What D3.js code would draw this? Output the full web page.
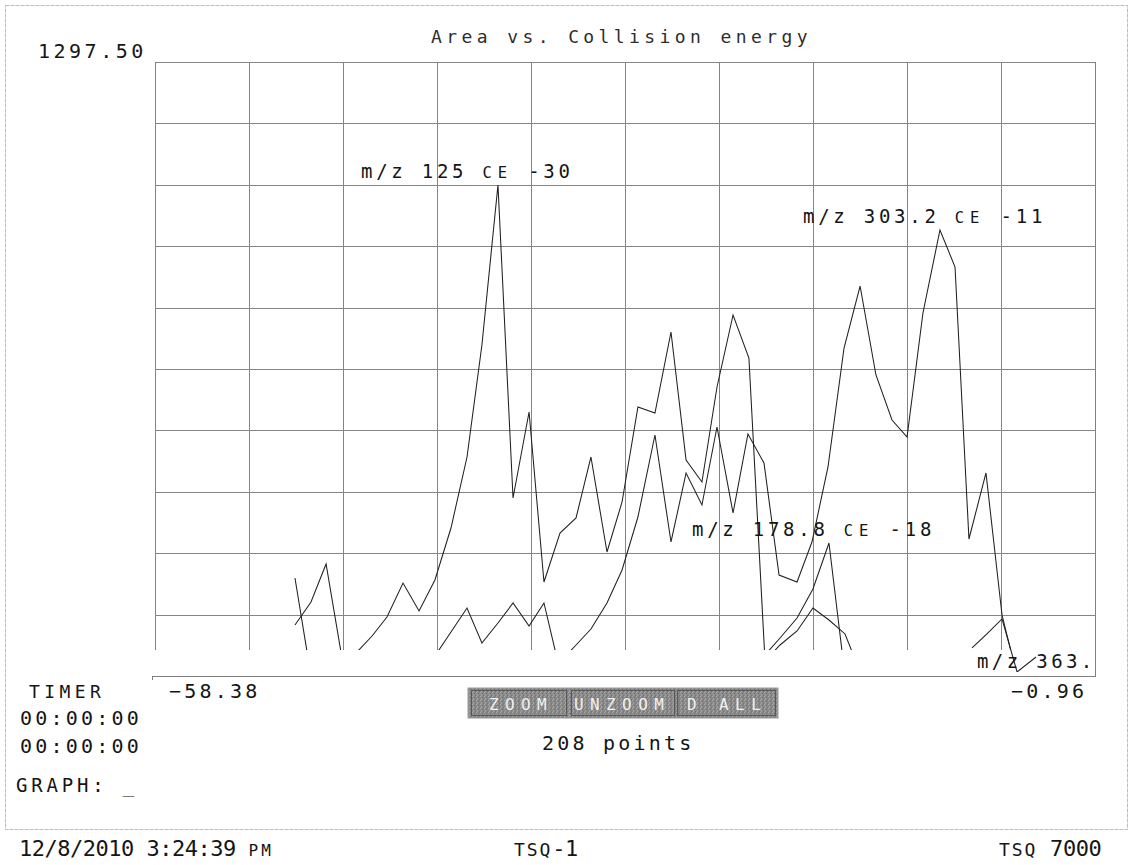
<!DOCTYPE html>
<html>
<head>
<meta charset="utf-8">
<title>Area vs. Collision energy</title>
<script src="https://cdn.jsdelivr.net/npm/d3@7"></script>
<style>
  html, body { margin: 0; padding: 0; background: #fff; }
  svg { display: block; }
  text { font-family: "DejaVu Sans Mono", "Liberation Mono", monospace; fill: #151515; }
</style>
</head>
<body>
<svg id="chart" width="1131" height="865"></svg>
<script>
// ---- axis range (collision energy, V) and area full scale ----
const ceRange = [-58.38, -0.96];
const areaTop = [1297.5];

// ---- m/z 125 trace ----
const mz125CE = [-49.83, -48.85, -47.93, -47.02, -46.10, -45.12, -44.21, -43.23, -42.25, -41.28,
                 -40.30, -39.32, -38.41, -37.43, -36.51, -35.53, -34.62, -33.64, -32.66, -31.75,
                 -30.77, -29.85, -28.88, -27.84, -26.86, -25.94, -24.97, -24.05, -23.07, -22.10, -21.12];
const mz125Area = [107.8, 156.4, 236.7, 50.7, 48.6, 84.5, 124.7, 196.5, 137.4, 202.9,
                   312.7, 462.8, 699.5, 1037.6, 376.1, 557.9, 198.6, 302.2, 333.9, 462.8,
                   262.0, 367.7, 568.5, 555.8, 726.9, 456.4, 410.0, 610.7, 762.9, 672.0, 33.8];

// ---- m/z 303.2 trace ----
const mz303CE = [-33.64, -32.66, -31.75, -30.77, -29.85, -28.88, -27.84, -26.86, -25.94, -24.97,
                 -24.05, -23.07, -22.16, -21.18, -20.26, -19.16, -18.25, -17.27, -16.29, -15.31,
                 -14.34, -13.36, -12.44, -11.47, -10.43, -9.51, -8.66, -7.62, -6.64, -5.72];
const mz303Area = [29.6, 65.5, 99.3, 154.3, 224.0, 336.0, 509.3, 283.2, 429.0, 361.4,
                   526.2, 344.4, 511.4, 450.1, 213.4, 198.6, 283.2, 441.7, 693.1, 824.1,
                   636.1, 541.0, 505.0, 767.1, 942.5, 864.3, 289.5, 429.0, 128.9, 0];

// ---- m/z 178.8 trace ----
const mz178CE = [-21.12, -20.20, -19.16, -18.19, -17.21, -16.23];
const mz178Area = [44.4, 80.3, 122.6, 183.8, 281.1, 0];

// ---- low-level trace ----
const lowCE = [-49.83, -48.85, -41.28, -40.30, -39.32, -38.41, -37.43, -36.51, -35.53, -34.62,
               -33.64, -21.18, -20.20, -19.16, -18.19, -17.21, -16.23, -15.31];
const lowArea = [207.1, 0, 42.3, 93.0, 143.7, 69.7, 112.0, 154.3, 105.7, 154.3,
                 10.6, 29.6, 65.5, 95.1, 143.7, 118.3, 88.8, 8.5];

// ---- m/z 363 trace ----
const mz363CE = [-8.47, -7.56, -6.64, -5.72, -4.56];
const mz363Area = [59.2, 88.8, 120.5, 8.5, 40.2];

// ---- trace labels ----
const labelMz = ["m/z 125 ", "m/z 303.2 ", "m/z 178.8 "];
const labelCE = [" -30", " -11", " -18"];
const lastLabel = ["m/z 363."];

// ---- status texts ----
const timerLines = ["TIMER", "00:00:00", "00:00:00"];
const buttonNames = ["ZOOM", "UNZOOM", "D ALL"];
const pointCount = [208];
const footer = ["12/8/2010 3:24:39 ", "PM", "TSQ", "-1", " 7000"];

// ------------------------------------------------------------------
const svg = d3.select("#chart");
const plotL = 155, plotR = 1095, plotT = 62, plotB = 676, floorY = 650;

const x = d3.scaleLinear().domain(ceRange).range([plotL, plotR]);
const y = d3.scaleLinear().domain([0, areaTop[0]]).range([plotB, plotT]);

const defs = svg.append("defs");
defs.append("clipPath").attr("id", "plotClip")
  .append("rect").attr("x", plotL).attr("y", plotT - 2).attr("width", plotR - plotL).attr("height", floorY - plotT + 2);
defs.append("clipPath").attr("id", "lowClip")
  .append("rect").attr("x", plotL).attr("y", plotT - 2).attr("width", plotR - plotL).attr("height", 674 - plotT);

// speckled grey used on the button strip
const grain = defs.append("pattern").attr("id", "grain")
  .attr("width", 4).attr("height", 4).attr("patternUnits", "userSpaceOnUse");
grain.append("rect").attr("width", 4).attr("height", 4).attr("fill", "#8a8a8a");
[[0,0,"#a9a9a9"],[2,1,"#707070"],[1,2,"#9f9f9f"],[3,3,"#777777"],[3,0,"#7e7e7e"],[1,3,"#a2a2a2"]]
  .forEach(([px, py, c]) => grain.append("rect").attr("x", px).attr("y", py)
    .attr("width", 1).attr("height", 1).attr("fill", c));

// page frame
svg.append("rect")
  .attr("x", 5.5).attr("y", 5.5).attr("width", 1122).attr("height", 824)
  .attr("fill", "none").attr("stroke", "#bdbdbd").attr("stroke-width", 1)
  .attr("stroke-dasharray", "4,1");

// grid: vertical lines stop at the floor, horizontal lines span the plot
const xTicks = d3.range(11).map(i => ceRange[0] + i * (ceRange[1] - ceRange[0]) / 10);
const yTicks = d3.range(1, 11).map(i => i * areaTop[0] / 10);

const gx = svg.append("g").attr("transform", `translate(0,${floorY})`)
  .call(d3.axisBottom(x).tickValues(xTicks).tickSize(-(floorY - plotT)).tickFormat(""));
const gy = svg.append("g").attr("transform", `translate(${plotL},0)`)
  .call(d3.axisLeft(y).tickValues(yTicks).tickSize(-(plotR - plotL)).tickFormat(""));
[gx, gy].forEach(g => {
  g.select(".domain").remove();
  g.selectAll(".tick line").attr("stroke", "#858585").attr("stroke-width", 1)
    .attr("shape-rendering", "crispEdges");
});

// baseline and right border
svg.append("path")
  .attr("d", `M${plotL - 3},${plotB + 4}V${plotB}H${plotR}V${plotT}`)
  .attr("fill", "none").attr("stroke", "#808080").attr("stroke-width", 1)
  .attr("shape-rendering", "crispEdges");

// traces
const line = d3.line().x(d => x(d[0])).y(d => y(d[1]));
const traces = [
  { ce: mz125CE, area: mz125Area, clip: "plotClip" },
  { ce: mz303CE, area: mz303Area, clip: "plotClip" },
  { ce: mz178CE, area: mz178Area, clip: "plotClip" },
  { ce: lowCE, area: lowArea, clip: "plotClip" },
  { ce: mz363CE, area: mz363Area, clip: "lowClip" }
];
traces.forEach(t => {
  svg.append("g").attr("clip-path", `url(#${t.clip})`)
    .append("path")
    .datum(d3.zip(t.ce, t.area))
    .attr("d", line)
    .attr("fill", "none")
    .attr("stroke", "#202020")
    .attr("stroke-width", 1.05)
    .attr("stroke-linejoin", "miter");
});

// labels sit just above-left of each trace maximum
[0, 1, 2].forEach(i => {
  const t = traces[i];
  const k = d3.maxIndex(t.area);
  const lx = x(t.ce[k]) - 137, ly = y(t.area[k]) - 7;
  const txt = svg.append("text").attr("x", lx).attr("y", ly)
    .style("font-size", "19px").style("letter-spacing", "3.75px");
  txt.append("tspan").text(labelMz[i]);
  txt.append("tspan").style("font-size", "15.5px").style("letter-spacing", "5.9px").text("CE");
  txt.append("tspan").text(labelCE[i]);
});
svg.append("text").attr("x", 977).attr("y", 668)
  .style("font-size", "19px").style("letter-spacing", "3.4px").text(lastLabel[0]);

// title and scale readouts
svg.append("text").attr("x", 431).attr("y", 43)
  .style("font-size", "18px").style("letter-spacing", "4.4px").style("fill", "#2e2e2e")
  .text("Area vs. Collision energy");
svg.append("text").attr("x", 38).attr("y", 58)
  .style("font-size", "20px").style("letter-spacing", "3.5px")
  .text(d3.format(".2f")(areaTop[0]));
svg.append("text").attr("x", 169).attr("y", 698)
  .style("font-size", "20px").style("letter-spacing", "3.2px")
  .text(d3.format(".2f")(ceRange[0]));
svg.append("text").attr("x", 1011).attr("y", 698)
  .style("font-size", "20px").style("letter-spacing", "3.2px")
  .text(d3.format(".2f")(ceRange[1]));

// timer block
svg.append("text").attr("x", 29).attr("y", 698)
  .style("font-size", "18px").style("letter-spacing", "4.4px").text(timerLines[0]);
svg.append("text").attr("x", 20).attr("y", 725)
  .style("font-size", "20px").style("letter-spacing", "3.2px").text(timerLines[1]);
svg.append("text").attr("x", 20).attr("y", 753)
  .style("font-size", "20px").style("letter-spacing", "3.2px").text(timerLines[2]);
const graphTxt = svg.append("text").attr("x", 16).attr("y", 792)
  .style("font-size", "19px").style("letter-spacing", "3.8px");
graphTxt.append("tspan").text("GRAPH: ");
graphTxt.append("tspan").style("fill", "#7a7a7a").text("_");

// button strip
const bar = svg.append("g");
bar.append("rect").attr("x", 468).attr("y", 688).attr("width", 310).attr("height", 30)
  .attr("fill", "url(#grain)").attr("stroke", "#9a9a9a");
const btnBoxes = [[471, 95], [571, 103], [677, 98]];
const btnTextX = [489, 574, 687];
buttonNames.forEach((name, i) => {
  bar.append("rect").attr("x", btnBoxes[i][0] + 0.5).attr("y", 690.5)
    .attr("width", btnBoxes[i][1]).attr("height", 25)
    .attr("fill", "none").attr("stroke", "#585858").attr("stroke-width", 1);
  bar.append("text").attr("x", btnTextX[i]).attr("y", 710)
    .style("font-size", "16px").style("letter-spacing", "6.4px").style("fill", "#f0f0f0")
    .text(name);
});
svg.append("text").attr("x", 542).attr("y", 750)
  .style("font-size", "20px").style("letter-spacing", "3.2px")
  .text(`${pointCount[0]} points`);

// footer
const f1 = svg.append("text").attr("x", 19).attr("y", 856)
  .style("font-size", "22px").style("letter-spacing", "-0.5px");
f1.append("tspan").text(footer[0]);
f1.append("tspan").style("font-size", "16px").style("letter-spacing", "3.1px").text(footer[1]);

const f2 = svg.append("text").attr("x", 514).attr("y", 856)
  .style("font-size", "22px").style("letter-spacing", "-0.5px");
f2.append("tspan").style("font-size", "18px").style("letter-spacing", "1.9px").text(footer[2]);
f2.append("tspan").text(footer[3]);

const f3 = svg.append("text").attr("x", 999).attr("y", 856)
  .style("font-size", "22px").style("letter-spacing", "-0.4px");
f3.append("tspan").style("font-size", "18px").style("letter-spacing", "1.9px").text(footer[2]);
f3.append("tspan").text(footer[4]);
</script>
</body>
</html>
